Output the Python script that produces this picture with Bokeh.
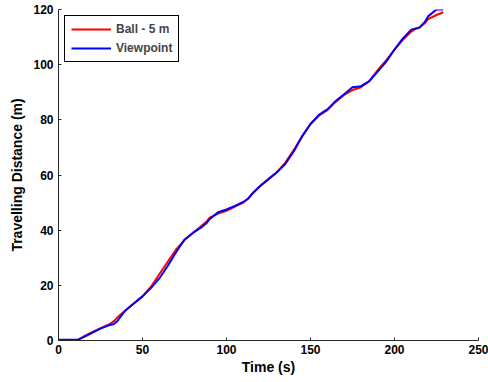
from bokeh.plotting import figure
from bokeh.models import Range1d, FixedTicker, Legend, LegendItem
from bokeh.embed import file_html
from bokeh.resources import INLINE

time_s = [0, 5, 10, 12, 15, 20, 25, 30, 33, 35, 38, 40, 45, 50, 55, 60, 65, 70, 73, 75,
          80, 85, 88, 90, 95, 100, 105, 110, 113, 115, 120, 125, 130, 135, 140, 145, 150,
          155, 160, 165, 170, 175, 180, 185, 190, 195, 200, 205, 210, 212, 215, 218, 220,
          225, 229]
ball_5m = [0, 0, 0, 0.3, 1.5, 3, 4.5, 5.8, 7, 8.3, 10, 11, 13.5, 16, 19.5, 24, 28.5, 33, 35,
           36.5, 39, 41.5, 43, 44.5, 46, 47, 48.5, 50, 51.5, 53, 56, 58.5, 61, 64.5, 69, 74,
           78.5, 81.5, 83.5, 86.5, 89, 90.8, 91.8, 94, 98, 101.5, 105.5, 109, 112, 112.8,
           113.5, 115, 116.5, 118, 119]
viewpoint = [0.3, 0.3, 0.3, 0.4, 1.2, 2.8, 4.3, 5.5, 6, 7, 9.5, 11, 13.5, 16, 19, 22.5, 27,
             32, 34.8, 36.5, 39, 41, 42.5, 44, 46.5, 47.5, 48.8, 50.2, 51.5, 53, 56, 58.5,
             61, 64, 68.5, 74, 78.5, 81.8, 83.8, 86.8, 89.3, 91.8, 92.2, 94, 97.5, 101,
             105.5, 109.5, 112.7, 113, 113.5, 115.5, 117.5, 120, 120]
x_ticks = [0, 50, 100, 150, 200, 250]
y_ticks = [0, 20, 40, 60, 80, 100, 120]
series_names = ["Ball - 5 m", "Viewpoint"]

FONT = "Liberation Sans"

p = figure(width=488, height=382, output_backend="svg", toolbar_location=None,
           x_range=Range1d(0, 250), y_range=Range1d(0, 120),
           min_border_left=58, min_border_right=10, min_border_top=9, min_border_bottom=42)
p.outline_line_color = None
p.xgrid.visible = False
p.ygrid.visible = False
p.background_fill_color = "white"
p.border_fill_color = "white"

r1 = p.line(time_s, ball_5m, line_color="#ff0000", line_width=2)
r2 = p.line(time_s, viewpoint, line_color="#0000ff", line_width=2)

for ax, ticks in ((p.xaxis[0], x_ticks), (p.yaxis[0], y_ticks)):
    ax.ticker = FixedTicker(ticks=ticks)
    ax.minor_tick_line_color = None
    ax.major_tick_in = 3
    ax.major_tick_out = 0
    ax.axis_line_color = "#262626"
    ax.major_tick_line_color = "#262626"
    ax.major_label_text_font = FONT
    ax.major_label_text_font_style = "bold"
    ax.major_label_text_font_size = "12px"
    ax.major_label_text_color = "black"
    ax.axis_label_text_font = FONT
    ax.axis_label_text_font_style = "bold"
    ax.axis_label_text_font_size = "14px"
    ax.axis_label_text_color = "black"

p.xaxis.axis_label = "Time (s)"
p.yaxis.axis_label = "Travelling Distance (m)"
p.xaxis.major_label_standoff = 4
p.xaxis.axis_label_standoff = 2
p.yaxis.major_label_standoff = 5
p.yaxis.axis_label_standoff = 5

legend = Legend(items=[LegendItem(label=series_names[0], renderers=[r1]),
                       LegendItem(label=series_names[1], renderers=[r2])],
                location="top_left", margin=6, padding=6, spacing=5,
                label_height=12, glyph_height=12, glyph_width=40, label_standoff=5,
                border_line_color="black", border_line_width=1.5, border_line_alpha=1,
                label_text_font=FONT, label_text_font_style="bold",
                label_text_font_size="12px", background_fill_alpha=1)
p.add_layout(legend)

open("out.html", "w").write(file_html(p, INLINE))
